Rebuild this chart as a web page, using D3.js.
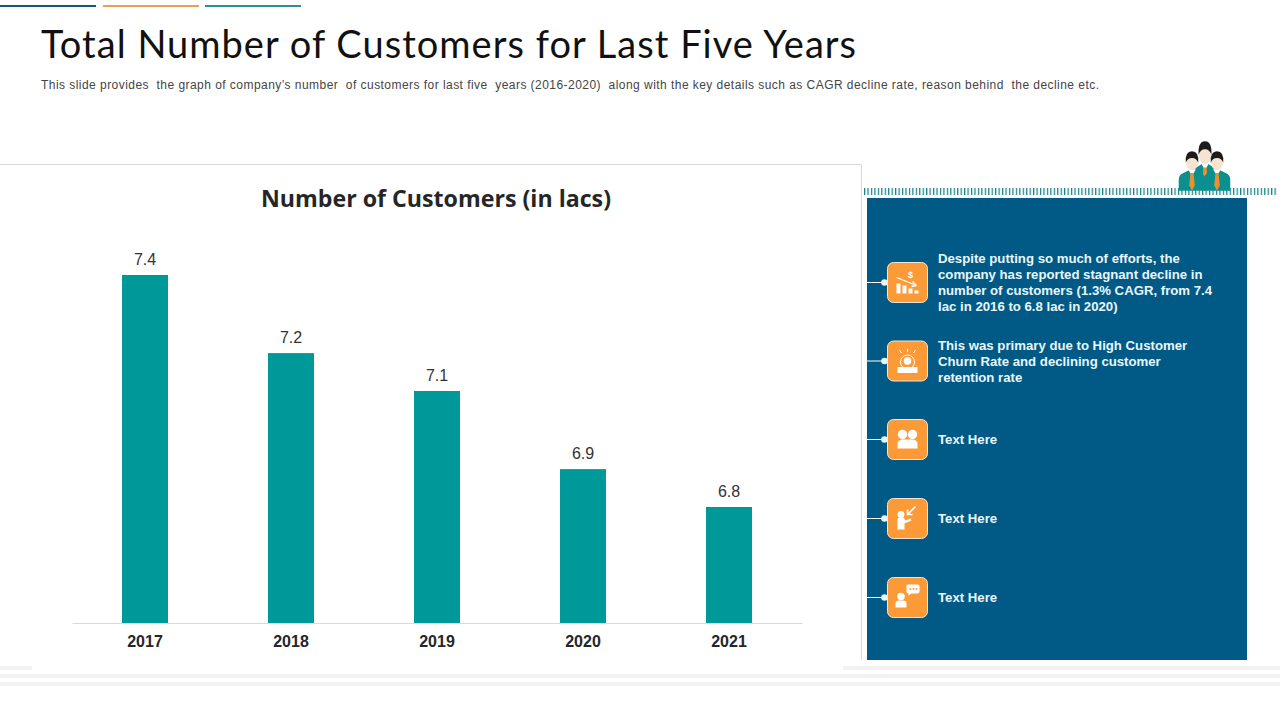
<!DOCTYPE html>
<html><head><meta charset="utf-8">
<script src="https://cdn.jsdelivr.net/npm/d3@7/dist/d3.min.js"></script>
<style>html,body{margin:0;padding:0;background:#fff;overflow:hidden}svg{display:block}</style>
</head><body><svg id="c" width="1280" height="720"></svg>
<script>
const years = ["2017","2018","2019","2020","2021"];
const customers = [7.4,7.198,7.1,6.898,6.8];
const titleText = "Total Number of Customers for Last Five Years";
const subtitleText = "This slide provides  the graph of company\u2019s number  of customers for last five  years (2016-2020)  along with the key details such as CAGR decline rate, reason behind  the decline etc.";
const chartTitle = "Number of Customers (in lacs)";
const notes = [
 ["Despite putting so much of efforts, the","company has reported stagnant decline in","number of customers (1.3% CAGR, from 7.4","lac in 2016 to 6.8 lac in 2020)"],
 ["This was primary due to High Customer","Churn Rate and declining customer","retention rate"],
 ["Text Here"],["Text Here"],["Text Here"]
];
const noteCentres = [282.5,361,439.5,518.5,597.5];

const svg = d3.select("#c");
const SANS = "'Liberation Sans',Arial,sans-serif";
const ORANGE="#fd9a38", NAVY="#005a85", TEAL="#009999";

// top accent rules
[[0,96,"#14597a"],[103,199,"#e5a25f"],[205,301,"#2a8f9a"]].forEach(d=>
  svg.append("rect").attr("x",d[0]).attr("y",5).attr("width",d[1]-d[0]).attr("height",2).attr("fill",d[2]));

// bottom stripes
[[0,32,666],[843,1280,666],[0,1280,674],[0,1280,682]].forEach(d=>
  svg.append("rect").attr("x",d[0]).attr("y",d[2]).attr("width",d[1]-d[0]).attr("height",4).attr("fill","#f2f2f2"));

// headings
svg.append("text").attr("x",41).attr("y",58).attr("textLength",815).attr("lengthAdjust","spacing")
  .attr("font-family","Lato,sans-serif").attr("font-weight",400).attr("font-size",38).attr("fill","#111").text(titleText);
svg.append("text").attr("x",41).attr("y",89).attr("textLength",1058).attr("lengthAdjust","spacing")
  .style("white-space","pre").attr("font-family",SANS).attr("font-size",12).attr("fill","#444").text(subtitleText);

// chart frame
svg.append("path").attr("d","M0,164.5H861.5V660").attr("fill","none").attr("stroke","#d9d9d9");

svg.append("text").attr("x",261).attr("y",207).attr("textLength",350).attr("lengthAdjust","spacingAndGlyphs")
  .attr("font-family","'Open Sans',sans-serif").attr("font-weight",700).attr("font-size",23.5).attr("fill","#262626").text(chartTitle);

// scales and marks
const x = d3.scaleBand().domain(years).range([72,802]).paddingInner(0.685).paddingOuter(0.3425);
const y = d3.scaleLinear().domain([6.5,7.4]).range([623,275]);

svg.append("g").selectAll("rect").data(years).join("rect")
  .attr("x",d=>x(d)).attr("width",x.bandwidth())
  .attr("y",(d,i)=>y(customers[i])).attr("height",(d,i)=>y.range()[0]-y(customers[i]))
  .attr("fill",TEAL);

svg.append("g").selectAll("text").data(years).join("text")
  .attr("x",d=>x(d)+x.bandwidth()/2).attr("y",(d,i)=>y(customers[i])-10.2)
  .attr("text-anchor","middle").attr("font-family",SANS).attr("font-size",16).attr("fill","#333")
  .text((d,i)=>d3.format(".1f")(customers[i]));

const ax = svg.append("g").attr("transform","translate(0,623)").call(d3.axisBottom(x).tickSize(0).tickPadding(13));
ax.select(".domain").attr("stroke","#d9d9d9");
ax.selectAll("text").attr("font-family",SANS).attr("font-size",16).attr("font-weight",700).attr("fill","#262626");

// right panel
const hatch = svg.append("defs").append("pattern").attr("id","hatch").attr("patternUnits","userSpaceOnUse").attr("x",864).attr("width",3.45).attr("height",8);
hatch.append("rect").attr("width",1.2).attr("height",8).attr("fill","#0f7f8a");
svg.append("rect").attr("x",864).attr("y",188).attr("width",414).attr("height",7).attr("fill","url(#hatch)");
svg.append("rect").attr("x",867).attr("y",198).attr("width",380).attr("height",462).attr("fill",NAVY);

// people icon
function person(g,cx,top,sx,sy){
  const p=g.append("g").attr("transform",`translate(${cx},${top}) scale(${sx},${sy})`);
  p.append("path").attr("d","M-17,36V24Q-17,19,-11,17L-4,14H4L11,17Q17,19,17,24V36Z").attr("fill","#0b8f8f");
  p.append("path").attr("d","M-5,13L0,20L5,13Z").attr("fill","#fff");
  p.append("path").attr("d","M-2,17H2L3.5,30L0,36L-3.5,30Z").attr("fill","#e8912e");
  p.append("ellipse").attr("cy",6).attr("rx",7.5).attr("ry",8).attr("fill","#f7e3d0");
  p.append("path").attr("d","M-8,6Q-9,-6,0,-6Q9,-6,8,6Q6,1,0,1Q-6,1,-8,6Z").attr("fill","#1c1c1c");
}
const ppl=svg.append("g");
person(ppl,1205,148,0.8,1.14);
person(ppl,1192,157,0.78,0.94);
person(ppl,1217,157,0.78,0.94);

// icon glyphs, in a 41x41 box centred on 0,0
const W="#fff";
const glyphs=[
 g=>{g.append("path").attr("d","M-11,11V1H-7V11ZM-5,11V3H-1V11ZM1,11V6H5V11ZM7,11V8H11V11Z").attr("fill",W);
     g.append("path").attr("d","M-11,-5L9,3M9,3L5,-1M9,3L4,4").attr("stroke",W).attr("stroke-width",1.3).attr("fill","none");
     g.append("text").attr("x",3).attr("y",-4.5).attr("text-anchor","middle").attr("font-family",SANS).attr("font-weight",700).attr("font-size",9).attr("fill",W).text("$");},
 g=>{g.append("rect").attr("x",-10).attr("y",6).attr("width",20).attr("height",6).attr("fill",W);
     g.append("circle").attr("cy",1).attr("r",7).attr("fill","none").attr("stroke",W);
     g.append("circle").attr("cy",0).attr("r",3.8).attr("fill",W);
     g.append("path").attr("d","M0,-12V-9M-8,-11L-6,-8M8,-11L6,-8").attr("stroke",W).attr("fill","none");},
 g=>{g.append("circle").attr("cx",-5).attr("cy",-5).attr("r",4.7).attr("fill",W);
     g.append("circle").attr("cx",5).attr("cy",-5).attr("r",4.7).attr("fill",W);
     g.append("path").attr("d","M-10,9V4Q-10,1,-6,0H6Q10,1,10,4V9Z").attr("fill",W);},
 g=>{g.append("circle").attr("cx",-6.5).attr("cy",-4).attr("r",3.4).attr("fill",W);
     g.append("path").attr("d","M-10,11V1Q-10,-1,-8,-1H-4L-2,2L3,0L4,2L-3,5V11Z").attr("fill",W);
     g.append("path").attr("d","M8,-12L0,-4M0,-9V-4H5").attr("stroke",W).attr("stroke-width",1.6).attr("fill","none");},
 g=>{g.append("circle").attr("cx",-6.5).attr("cy",-1).attr("r",3.8).attr("fill",W);
     g.append("path").attr("d","M-12,10V6Q-12,3,-9,3H-4Q-1,3,-1,6V10Z").attr("fill",W);
     g.append("path").attr("d","M0,-13H10Q12,-13,12,-11V-6Q12,-4,10,-4H4L1,-2V-4Q-1,-4,-1,-6V-11Q-1,-13,0,-13Z").attr("fill",W);
     g.append("path").attr("d","M2,-8.5H4M5,-8.5H7M8,-8.5H10").attr("stroke",ORANGE).attr("stroke-width",1.3);}
];

notes.forEach((lines,i)=>{
  const cy=noteCentres[i];
  svg.append("line").attr("x1",867).attr("x2",885).attr("y1",cy).attr("y2",cy).attr("stroke","#fff").attr("stroke-width",1);
  svg.append("circle").attr("cx",884.5).attr("cy",cy).attr("r",3.3).attr("fill","#e8f6fc");
  svg.append("rect").attr("x",887.5).attr("y",cy-20).attr("width",40).attr("height",40).attr("rx",6).attr("fill",ORANGE).attr("stroke","#f4e6d6").attr("stroke-width",1);
  glyphs[i](svg.append("g").attr("transform",`translate(907.5,${cy})`));
  const t=svg.append("text").attr("font-family",SANS).attr("font-weight",700).attr("font-size",13.2).attr("fill","#eaf6fc").style("white-space","pre");
  const start=cy-(lines.length-1)*8+4.5;
  lines.forEach((l,j)=>t.append("tspan").attr("x",938).attr("y",Math.ceil(start+j*16)).text(l));
});
</script></body></html>
